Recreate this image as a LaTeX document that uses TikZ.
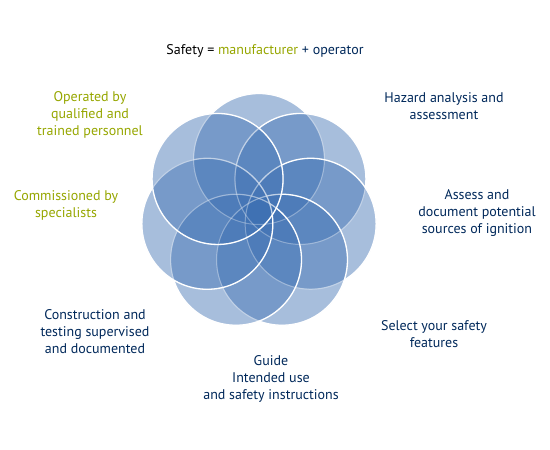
\documentclass[tikz,border=0pt]{standalone}
\usepackage{fontspec}
\setmainfont{PT Sans}
\usetikzlibrary{positioning}
\definecolor{navy}{RGB}{0,40,90}
\definecolor{olive}{RGB}{150,166,0}
\definecolor{petalblue}{RGB}{60,111,178}

\begin{document}
\begin{tikzpicture}[x=1pt,y=-1pt,
    petal/.style={circle, minimum size=131pt, inner sep=0pt, fill=petalblue, fill opacity=0.45, draw=white, line width=1.3pt},
    rim/.style={draw=white, draw opacity=0.3, line width=1pt},
    lbl/.style={align=center, inner sep=0pt, text=navy, font=\fontsize{14}{17}\selectfont},
    lblg/.style={lbl, text=olive}]
    \useasboundingbox (0,0) rectangle (550,450);
    % seven overlapping circles
    \foreach \i in {0,...,6} {
        \pgfmathsetmacro{\a}{90-\i*360/7}
        \node[petal] (c\i) at ({259+53*cos(\a)},{212-53*sin(\a)}) {};
    }
    \foreach \i in {0,...,6}
        \draw[rim] (c\i) circle (65.5);
    \node[lbl, text=black] (title) at (265,51) {Safety = \textcolor{olive}{manufacturer} \textcolor{navy}{+ operator}};
    \node[lbl] (hazard) at (444,106) {Hazard analysis and\\assessment};
    \node[lbl] (assess) at (477,213) {Assess and\\document potential\\sources of ignition};
    \node[lbl] (select) at (434,334) {Select your safety\\features};
    \node[lbl] (guide) at (271,379) {Guide\\Intended use\\and safety instructions};
    \node[lbl] (constr) at (95,332) {Construction and\\testing supervised\\and documented};
    \node[lblg] (comm) at (66,205) {Commissioned by\\specialists};
    \node[lblg] (oper) at (90,115) {Operated by\\qualified and\\trained personnel};
\end{tikzpicture}
\end{document}
